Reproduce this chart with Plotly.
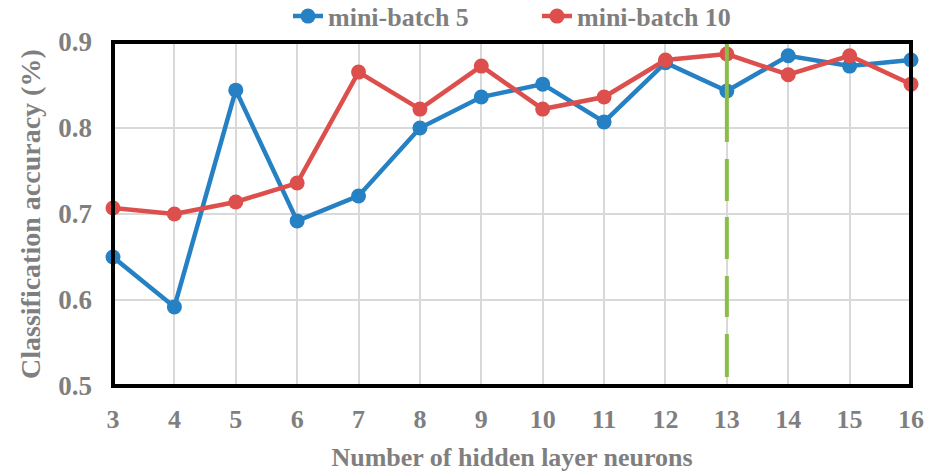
import plotly.graph_objects as go

# Hidden-layer sizes tested
neurons = [3, 4, 5, 6, 7, 8, 9, 10, 11, 12, 13, 14, 15, 16]

# Classification accuracy for each mini-batch size
acc_batch5 = [0.650, 0.592, 0.844, 0.692, 0.721, 0.800, 0.836, 0.851,
              0.807, 0.876, 0.843, 0.884, 0.872, 0.879]
acc_batch10 = [0.707, 0.700, 0.714, 0.736, 0.865, 0.822, 0.872, 0.822,
               0.836, 0.879, 0.886, 0.862, 0.884, 0.851]

series_names = ["mini-batch 5", "mini-batch 10"]
best_neurons = 13

y_ticks = [0.5, 0.6, 0.7, 0.8, 0.9]
y_tick_text = ["0.5", "0.6", "0.7", "0.8", "0.9"]
y_title = "Classification accuracy (%)"
x_title = "Number of hidden layer neurons"

BLUE = "#2681c4"
RED = "#dd4f4c"
GREEN = "#8bbd4a"
GREY = "#7f7f7f"
FONT = "Liberation Serif"

fig = go.Figure()
for name, vals, color in [(series_names[0], acc_batch5, BLUE),
                          (series_names[1], acc_batch10, RED)]:
    fig.add_trace(go.Scatter(
        x=neurons, y=vals, name=name, mode="lines+markers",
        line=dict(color=color, width=4.5),
        marker=dict(color=color, size=15),
        cliponaxis=False,
    ))

# Highlight the selected number of neurons
fig.add_shape(type="line", xref="x", yref="y",
              x0=best_neurons, x1=best_neurons, y0=0.9, y1=0.5,
              line=dict(color=GREEN, width=4,
                        dash="100px,17px,42px,16px,42px,17px,41px,17px,43px,20px"),
              layer="above")

# Plot frame
fig.add_shape(type="rect", xref="paper", yref="paper",
              x0=0, x1=1, y0=0, y1=1,
              line=dict(color="black", width=4), layer="above")

# Vertical axis title, placed left of the tick labels
fig.add_annotation(text=y_title, xref="paper", yref="paper",
                   x=-0.104, y=0.5, xanchor="center", yanchor="middle",
                   textangle=-90, showarrow=False,
                   font=dict(family=FONT, size=28, color=GREY, weight="bold"))

fig.update_layout(
    width=927, height=476,
    margin=dict(l=113, r=16, t=42, b=90, autoexpand=False),
    paper_bgcolor="white", plot_bgcolor="white",
    font=dict(family=FONT, color=GREY, size=26),
    showlegend=True,
    legend=dict(orientation="h", xref="container", yref="paper",
                x=288 / 927, xanchor="left", y=1.075, yanchor="middle",
                bgcolor="rgba(0,0,0,0)",
                font=dict(family=FONT, size=26, color=GREY, weight="bold"),
                entrywidth=204, entrywidthmode="pixels", tracegroupgap=0),
    xaxis=dict(
        range=[3, 16], tickmode="array", tickvals=neurons,
        ticktext=[str(n) for n in neurons],
        showgrid=True, gridcolor="#d9d9d9", gridwidth=2,
        zeroline=False, showline=False, ticks="",
        ticklabelstandoff=15,
        tickfont=dict(family=FONT, size=26, color=GREY, weight="bold"),
        title=dict(text=x_title, standoff=14,
                   font=dict(family=FONT, size=26, color=GREY, weight="bold")),
    ),
    yaxis=dict(
        range=[0.5, 0.9], tickmode="array", tickvals=y_ticks,
        ticktext=y_tick_text,
        showgrid=True, gridcolor="#d9d9d9", gridwidth=2,
        zeroline=False, showline=False, ticks="",
        ticklabelstandoff=20,
        tickfont=dict(family=FONT, size=27, color=GREY, weight="bold"),
    ),
)

fig.write_html("out.html")
